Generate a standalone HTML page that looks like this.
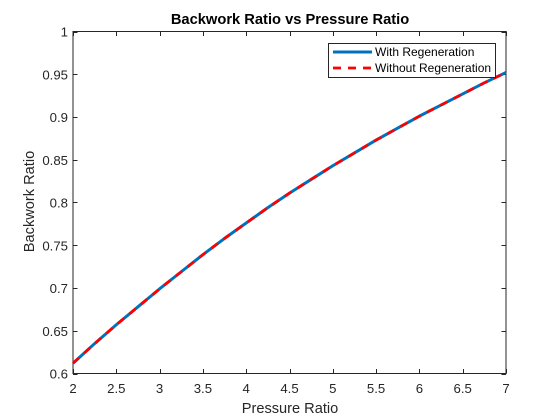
<!DOCTYPE html>
<html>
<head>
<meta charset="utf-8">
<style>
html,body{margin:0;padding:0;background:#fff;}
svg{display:block;font-family:"Liberation Sans",Arial,sans-serif;}
</style>
</head>
<body>
<svg id="chart" xmlns="http://www.w3.org/2000/svg" width="560" height="420" viewBox="0 0 560 420"></svg>
<script>
const xTicks = ['2','2.5','3','3.5','4','4.5','5','5.5','6','6.5','7'];
const yTicks = ['0.6','0.65','0.7','0.75','0.8','0.85','0.9','0.95','1'];
const pressureRatio = [2,2.25,2.5,2.75,3,3.25,3.5,3.75,4,4.25,4.5,4.75,5,5.25,5.5,5.75,6,6.25,6.5,6.75,7];
const withRegeneration = [0.612,0.635,0.657,0.678,0.699,0.719,0.739,0.758,0.776,0.794,0.811,0.827,0.843,0.858,0.873,0.887,0.901,0.914,0.927,0.940,0.952];
const withoutRegeneration = [0.612,0.635,0.657,0.678,0.699,0.719,0.739,0.758,0.776,0.794,0.811,0.827,0.843,0.858,0.873,0.887,0.901,0.914,0.927,0.940,0.952];

const svg = document.getElementById('chart');
const NS = 'http://www.w3.org/2000/svg';
const L = 73, R = 506, T = 31.5, B = 373.5;
const xMin = 2, xMax = 7, yMin = 0.6, yMax = 1;
function sx(v){ return L + (v - xMin) / (xMax - xMin) * (R - L); }
function sy(v){ return B - (v - yMin) / (yMax - yMin) * (B - T); }
function make(tag, attrs, text){
  const el = document.createElementNS(NS, tag);
  for (const k in attrs) el.setAttribute(k, attrs[k]);
  if (text !== undefined) el.textContent = text;
  svg.appendChild(el);
  return el;
}
const axisColor = '#262626';

// axes background and frame
const plotArea = make('rect', {x:L, y:T, width:R-L, height:B-T, fill:'#fff', stroke:axisColor, 'stroke-width':1});



// x ticks
xTicks.forEach(function(label){
  const x = Math.round(sx(parseFloat(label))) + 0.5;
  const t1 = make('line', {x1:x, x2:x, y1:B, y2:B-4.5, stroke:axisColor, 'stroke-width':1});
  
  
  const t2 = make('line', {x1:x, x2:x, y1:T, y2:T+4.5, stroke:axisColor, 'stroke-width':1});
  
  
  const tl = make('text', {x:sx(parseFloat(label)), y:393, 'text-anchor':'middle', 'font-size':13.2, fill:axisColor}, label);
  
  
});

// y ticks
yTicks.forEach(function(label){
  const y = Math.round(sy(parseFloat(label))) + 0.5;
  const t1 = make('line', {x1:L, x2:L+4.5, y1:y, y2:y, stroke:axisColor, 'stroke-width':1});
  
  
  const t2 = make('line', {x1:R, x2:R-4.5, y1:y, y2:y, stroke:axisColor, 'stroke-width':1});
  
  
  const tl = make('text', {x:68, y:sy(parseFloat(label))+5, 'text-anchor':'end', 'font-size':13.2, fill:axisColor}, label);
  
  
});

// series
function pointsFor(xs, ys){
  return xs.map(function(v, i){ return sx(v).toFixed(2) + ',' + sy(ys[i]).toFixed(2); }).join(' ');
}
const line1 = make('polyline', {points:pointsFor(pressureRatio, withRegeneration), fill:'none', stroke:'#0072bd', 'stroke-width':3, 'stroke-linejoin':'round'});


const line2 = make('polyline', {points:pointsFor(pressureRatio, withoutRegeneration), fill:'none', stroke:'#ff0000', 'stroke-width':2.7, 'stroke-dasharray':'8 7', 'stroke-linejoin':'round'});



// titles
const title = make('text', {x:290, y:24, 'text-anchor':'middle', 'font-size':14.7, 'font-weight':'bold', fill:'#000'}, 'Backwork Ratio vs Pressure Ratio');


const xTitle = make('text', {x:290, y:413, 'text-anchor':'middle', 'font-size':14.6, fill:axisColor}, 'Pressure Ratio');


const yTitle = make('text', {x:0, y:0, transform:'translate(34 201.5) rotate(-90)', 'text-anchor':'middle', 'font-size':14.6, fill:axisColor}, 'Backwork Ratio');



// legend
const legendBox = make('rect', {x:328.5, y:43.5, width:167, height:34, fill:'#fff', stroke:axisColor, 'stroke-width':1});


const swatch1 = make('line', {x1:333, x2:372, y1:52, y2:52, stroke:'#0072bd', 'stroke-width':3});


const label1 = make('text', {x:375, y:56, 'font-size':12, fill:'#000'}, 'With Regeneration');


const swatch2 = make('line', {x1:333, x2:372, y1:68, y2:68, stroke:'#ff0000', 'stroke-width':2.7, 'stroke-dasharray':'8 7'});


const label2 = make('text', {x:375, y:72, 'font-size':12, fill:'#000'}, 'Without Regeneration');


</script>
</body>
</html>
